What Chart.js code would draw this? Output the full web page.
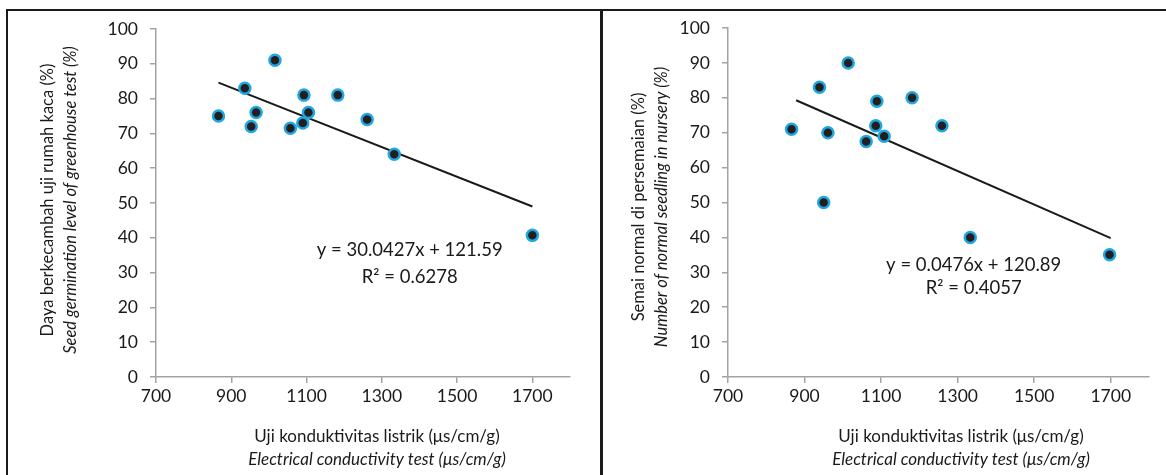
<!DOCTYPE html>
<html>
<head>
<meta charset="utf-8">
<script src="https://cdn.jsdelivr.net/npm/chart.js@4.4.1/dist/chart.umd.min.js"></script>
<style>
  html, body { margin: 0; padding: 0; background: #ffffff; }
  body { width: 1166px; height: 475px; position: relative; overflow: hidden; }
  #c1 { position: absolute; left: 0; top: 0; }
  #c2 { position: absolute; left: 603px; top: 0; }
  .frame { position: absolute; background: #1a1a1a; z-index: 5; }
</style>
</head>
<body>
<canvas id="c1" width="600" height="475"></canvas>
<canvas id="c2" width="563" height="475"></canvas>
<div class="frame" style="left:6px;top:9px;width:1160px;height:2px;"></div>
<div class="frame" style="left:6px;top:9px;width:2px;height:466px;"></div>
<div class="frame" style="left:600px;top:9px;width:3px;height:466px;"></div>
<script>
// ---------- data ----------
const xTickLabels = [700, 900, 1100, 1300, 1500, 1700];
const yTickLabels = [0, 10, 20, 30, 40, 50, 60, 70, 80, 90, 100];

// Left panel: greenhouse germination vs electrical conductivity
const ecGreenhouse   = [866, 936, 1016, 953, 966, 1057, 1090, 1093, 1105, 1183, 1261, 1333, 1700];
const germGreenhouse = [75, 83, 91, 72, 76, 71.5, 73, 81, 76, 81, 74, 64, 40.7];
const trendGreenhouseX = [866, 1700];
const trendGreenhouseY = [84.6, 49.0];
const eqGreenhouse = ["y = 30.0427x + 121.59", "R\u00B2 = 0.6278"];

// Right panel: normal seedlings in nursery vs electrical conductivity
const ecNursery       = [866, 939, 1014, 950, 961, 1061, 1086, 1089, 1108, 1181, 1259, 1333, 1697];
const seedlingNursery = [71, 83, 90, 50, 70, 67.5, 72, 79, 69, 80, 72, 40, 35];
const trendNurseryX = [878, 1700];
const trendNurseryY = [79.3, 39.8];
const eqNursery = ["y = 0.0476x + 120.89", "R\u00B2 = 0.4057"];

const xTitle = ["Uji konduktivitas listrik (\u03BCs/cm/g)", "Electrical conductivity test (\u03BCs/cm/g)"];
const yTitleGreenhouse = ["Daya berkecambah uji rumah kaca (%)", "Seed germination level of greenhouse test (%)"];
const yTitleNursery = ["Semai normal di persemaian (%)", "Number of normal seedling in nursery (%)"];

// ---------- styling ----------
const FONT = 'Lato';
const axisGray = '#a3a3a3';
const textColor = '#1a1a1a';
const markerFill = '#231f20';
const markerEdge = '#1ea7e1';

const pairs = (xs, ys) => xs.map((x, i) => ({ x: x, y: ys[i] }));

const titlePlugin = {
  id: 'panelTitles',
  afterDraw(chart, args, o) {
    const ctx = chart.ctx;
    const xs = chart.scales.x, ys = chart.scales.y;
    ctx.save();
    ctx.fillStyle = textColor;
    ctx.textAlign = 'center';
    ctx.textBaseline = 'middle';
    // x-axis titles
    ctx.font = '17px ' + FONT;
    ctx.fillText(o.xTitle[0], o.xCenter, o.xLine1);
    ctx.font = 'italic 17px ' + FONT;
    ctx.fillText(o.xTitle[1], o.xCenter, o.xLine2);
    // y-axis titles (rotated)
    ctx.save();
    ctx.translate(o.yLine1, o.yCenter);
    ctx.rotate(-Math.PI / 2);
    ctx.font = '16.5px ' + FONT;
    ctx.fillText(o.yTitle[0], 0, 0);
    ctx.restore();
    ctx.save();
    ctx.translate(o.yLine2, o.yCenter);
    ctx.rotate(-Math.PI / 2);
    ctx.font = 'italic 16.5px ' + FONT;
    ctx.fillText(o.yTitle[1], 0, 0);
    ctx.restore();
    // regression equation
    ctx.font = '18.5px ' + FONT;
    ctx.fillText(o.eq[0], xs.getPixelForValue(o.eqX), ys.getPixelForValue(o.eqY1));
    ctx.fillText(o.eq[1], xs.getPixelForValue(o.eqX), ys.getPixelForValue(o.eqY2));
    ctx.restore();
  }
};

function makeChart(id, xs, ys, tx, ty, cfg) {
  return new Chart(document.getElementById(id), {
    data: {
      datasets: [
        {
          type: 'scatter',
          data: pairs(xs, ys),
          backgroundColor: markerFill,
          borderColor: markerEdge,
          borderWidth: 2.5,
          pointRadius: 5.5,
          pointHoverRadius: 5.5,
          order: 1
        },
        {
          type: 'line',
          data: pairs(tx, ty),
          borderColor: '#1a1a1a',
          borderWidth: 2,
          pointRadius: 0,
          fill: false,
          order: 2
        }
      ]
    },
    options: {
      responsive: false,
      animation: false,
      events: [],
      layout: { padding: cfg.padding },
      plugins: {
        legend: { display: false },
        tooltip: { enabled: false },
        panelTitles: cfg.titles
      },
      scales: {
        x: {
          type: 'linear',
          min: 700, max: 1800,
          afterBuildTicks: s => { s.ticks = xTickLabels.map(v => ({ value: v })); },
          afterFit: s => { s.height = 40; },
          grid: { display: true, drawOnChartArea: false, drawTicks: true, tickLength: 6, color: axisGray, lineWidth: 1.5 },
          border: { display: true, color: axisGray, width: 1.5 },
          ticks: { color: textColor, font: { family: FONT, size: 17.5 }, padding: 3, maxRotation: 0, autoSkip: false,
                   callback: v => String(v) }
        },
        y: {
          type: 'linear',
          min: 0, max: 100,
          afterBuildTicks: s => { s.ticks = yTickLabels.map(v => ({ value: v })); },
          afterFit: s => { s.width = cfg.yWidth; },
          grid: { display: true, drawOnChartArea: false, drawTicks: true, tickLength: 6, color: axisGray, lineWidth: 1.5 },
          border: { display: true, color: axisGray, width: 1.5 },
          ticks: { color: textColor, font: { family: FONT, size: 17.5 }, padding: 12, autoSkip: false,
                   callback: v => String(v) }
        }
      }
    },
    plugins: [titlePlugin]
  });
}

function build() {
  makeChart('c1', ecGreenhouse, germGreenhouse, trendGreenhouseX, trendGreenhouseY, {
    padding: { left: 0, right: 30, top: 29, bottom: 58 },
    yWidth: 156,
    titles: {
      xTitle: xTitle, xCenter: 377, xLine1: 437, xLine2: 460,
      yTitle: yTitleGreenhouse, yCenter: 200, yLine1: 48, yLine2: 71,
      eq: eqGreenhouse, eqX: 1374, eqY1: 36.5, eqY2: 28.8
    }
  });
  makeChart('c2', ecNursery, seedlingNursery, trendNurseryX, trendNurseryY, {
    padding: { left: 0, right: 17, top: 28, bottom: 58 },
    yWidth: 125,
    titles: {
      xTitle: xTitle, xCenter: 358, xLine1: 437, xLine2: 460,
      yTitle: yTitleNursery, yCenter: 207, yLine1: 36, yLine2: 59,
      eq: eqNursery, eqX: 1342, eqY1: 32.2, eqY2: 25.4
    }
  });
}

if (document.fonts && document.fonts.load) {
  Promise.all([
    document.fonts.load('16px ' + FONT),
    document.fonts.load('italic 16px ' + FONT)
  ]).then(build, build);
} else {
  build();
}
</script>
</body>
</html>
